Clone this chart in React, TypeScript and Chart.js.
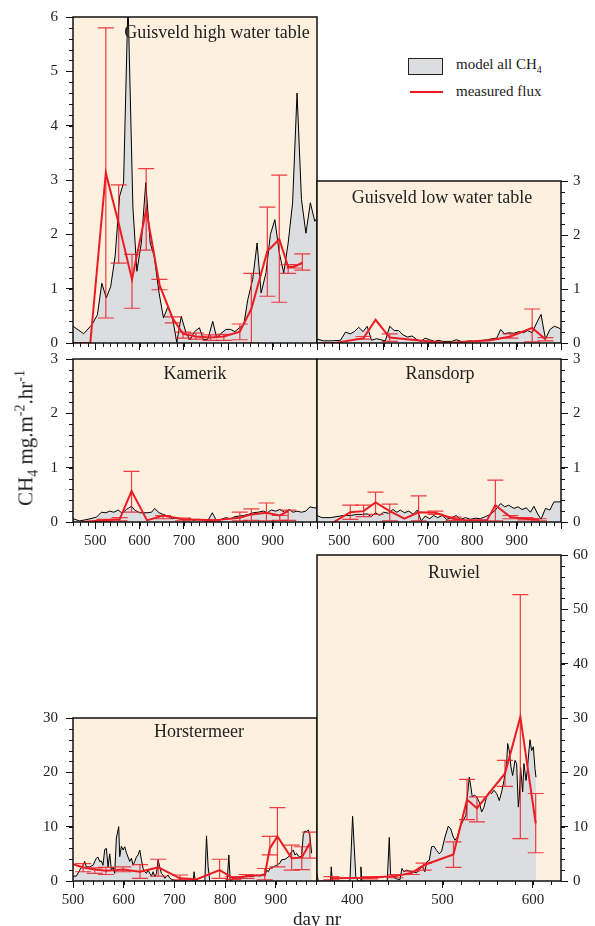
import React, { useEffect, useRef } from 'react';
import { Chart, registerables } from 'chart.js';
Chart.register(...registerables);

const FONT = "'Liberation Serif', 'DejaVu Serif', 'Times New Roman', serif";
const BG = 'rgb(253,240,222)';
const GRAY = 'rgb(220,221,223)';
const RED = 'rgb(236,28,36)';
const RED_BAR = 'rgba(236,28,36,0.85)';

// ---------- Guisveld high water table ----------
const ghModelDay = [450,474,493,505,515,525,535,545,555,564,574,585,594,604,614,624,633,644,654,664,675,684,694,705,714,724,735,744,754,765,774,784,795,805,815,825,835,844,855,865,874,885,895,905,915,925,935,945,955,965,975,985,995,1000];
const ghModel = [0.31,0.17,0.34,0.52,1.1,0.83,1.04,1.6,2.7,2.95,6.3,2.5,1.32,1.84,2.95,1.84,1.6,0.92,0.46,0.67,0.43,0.01,0.49,0.18,0.06,0.21,0.28,0.06,0.07,0.4,0.09,0.18,0.25,0.25,0.21,0.28,0.34,0.8,1.17,1.84,0.92,1.29,2.0,2.27,1.66,1.29,1.84,2.58,4.6,2.64,2.02,2.58,2.24,2.3];
const ghFluxDay = [450,489,524,553,583,615,645,675,698,727,760,790,826,852,888,915,935,948,967];
const ghFlux = [0,0,3.13,2.2,1.17,2.45,1.07,0.45,0.17,0.12,0.1,0.12,0.21,0.63,1.69,1.91,1.4,1.4,1.48];
const ghFluxLo = [null,null,0.46,1.47,0.64,1.71,0.98,0.37,0.09,0.07,0.05,0.05,0.06,0,0.86,0.75,1.28,1.38,1.34];
const ghFluxHi = [null,null,5.8,2.91,1.63,3.21,1.17,0.48,0.2,0.18,0.15,0.16,0.35,1.28,2.5,3.09,1.44,1.44,1.64];

// ---------- Guisveld low water table ----------
const glModelDay = [450,465,484,503,514,525,534,544,554,563,573,584,594,604,614,624,634,644,654,664,674,684,694,704,715,724,734,745,754,764,775,785,794,805,815,824,835,845,855,864,873,882,894,905,915,925,935,945,955,965,975,985,995,1000];
const glModel = [0.07,0.04,0.04,0.05,0.2,0.17,0.21,0.29,0.21,0.31,0.05,0.08,0.06,0.04,0.31,0.23,0.23,0.15,0.11,0.13,0.07,0.03,0.09,0.06,0.03,0.05,0.03,0.03,0.03,0.06,0.03,0.03,0.04,0.03,0.04,0.05,0.06,0.08,0.09,0.25,0.17,0.19,0.18,0.21,0.19,0.23,0.19,0.37,0.53,0.07,0.25,0.31,0.28,0.25];
const glFluxDay = [455,491,555,582,614,675,743,841,886,935,965];
const glFlux = [0,0,0.09,0.43,0.1,0.05,0.0,0.05,0.12,0.28,0.07];
const glFluxLo = [null,null,0.07,null,0.03,null,null,null,0.09,0.02,0.04];
const glFluxHi = [null,null,0.12,null,0.17,null,null,null,0.17,0.63,0.1];

// ---------- Kamerik ----------
const kaModelDay = [450,465,484,503,514,524,533,542,552,561,570,582,589,600,608,617,627,634,644,653,664,674,683,694,704,713,722,732,743,755,764,773,785,794,805,815,826,835,845,856,867,879,888,897,907,916,927,937,946,955,965,975,984,993,1000];
const kaModel = [0.06,0.02,0.05,0.09,0.18,0.17,0.2,0.18,0.22,0.16,0.23,0.29,0.22,0.17,0.17,0.17,0.18,0.25,0.17,0.14,0.11,0.06,0.08,0.05,0.04,0.06,0.03,0.05,0.04,0.04,0.17,0.03,0.05,0.08,0.06,0.1,0.11,0.12,0.14,0.17,0.18,0.2,0.17,0.22,0.2,0.23,0.18,0.23,0.18,0.2,0.18,0.2,0.28,0.26,0.26];
const kaFluxDay = [470,521,555,582,617,653,698,766,826,852,886,916,935];
const kaFlux = [0,0.03,0.05,0.57,0.03,0.12,0.05,0.03,0.08,0.14,0.17,0.12,0.2];
const kaFluxLo = [null,0.01,0.02,0.18,null,0.06,0.02,0.01,0.02,0.03,0.02,0.03,0.03];
const kaFluxHi = [null,0.05,0.08,0.93,null,0.12,0.07,0.04,0.18,0.24,0.35,0.12,0.22];

// ---------- Ransdorp ----------
const raModelDay = [450,461,480,495,510,525,540,552,563,572,582,591,600,612,621,630,638,647,657,667,676,685,694,704,713,722,732,742,751,764,773,785,796,807,818,830,841,852,864,873,882,894,903,912,922,931,939,948,955,965,975,984,995,1000];
const raModel = [0.12,0.08,0.08,0.1,0.12,0.12,0.14,0.14,0.15,0.1,0.17,0.12,0.18,0.16,0.23,0.18,0.22,0.17,0.2,0.14,0.22,0.02,0.11,0.06,0.12,0.08,0.12,0.05,0.07,0.12,0.05,0.08,0.05,0.07,0.06,0.1,0.14,0.22,0.34,0.28,0.31,0.25,0.28,0.23,0.26,0.18,0.29,0.14,0.05,0.25,0.22,0.37,0.37,0.37];
const raFluxDay = [488,525,555,582,614,647,679,717,758,788,833,852,886,920,950];
const raFlux = [0,0.18,0.2,0.36,0.2,0.06,0.18,0.17,0.06,0.03,0.03,0.31,0.09,0.06,0.04];
const raFluxLo = [null,0.05,0.1,0.14,0.02,null,0.02,0.14,0.03,null,null,0.02,0.06,0.04,0.02];
const raFluxHi = [null,0.31,0.31,0.55,0.33,null,0.48,0.2,0.09,null,null,0.77,0.12,0.08,0.06];

// ---------- Horstermeer ----------
const hoModelDay = [500,506.6,513.2,519.7,523,526.3,532.9,539.5,546,549.3,552.6,555.9,559.2,562.5,565.8,569.1,572.4,575.7,578.9,582.2,585.5,587.5,590.1,592.1,595.4,598.7,602,605.3,608.6,611.8,615.1,618.4,621.7,625,628.3,631.6,634.9,638.2,641.4,644.7,648,651.3,654.6,657.9,661.2,664.5,667.8,671,674.3,677.6,680.9,684.2,687.5,690.8,697.4,703.9,710.5,723.7,736.8,738.8,740.8,759.9,763.2,766.4,769.7,789.5,804,807.2,809.9,815.8,822.4,829,835.5,842.1,848.7,855.3,861.8,868.4,875,878.3,881.6,884.9,888.2,894.7,901.3,907.9,911.2,917.8,924.3,927.6,930.9,934.2,937.5,940.8,944.1,947.4,950.7,953.9,957.2,960.5,963.8,967.1,970.4];
const hoModel = [0.9,0.9,2.0,2.9,3.6,2.6,2.6,2.9,4.2,4.4,3.6,3.7,2.9,5.8,6.0,2.6,5.0,2.0,2.6,1.4,7.9,8.8,10.0,4.5,6.4,5.7,6.3,5.2,4.4,3.6,4.2,2.9,3.6,4.4,4.8,5.7,3.9,2.3,1.7,1.4,2.0,1.4,0.9,1.7,0.8,1.4,3.9,2.6,1.4,1.1,0.5,0.8,1.1,0.5,0.2,0.06,0.2,0,0,1.7,0,0,8.3,2.6,0,0,0,4.8,0,0.5,0.5,0.8,0.7,0.9,0.8,0.9,1.1,0.9,1.3,0.9,2.0,1.7,2.3,2.6,2.9,3.3,3.9,4.0,4.4,4.8,5.4,5.7,4.8,5.1,4.6,4.4,4.6,8.5,9.2,9.1,9.4,8.2,5.1];
const hoFluxDay = [500,520,543,565,599,632,668,711,743,789,816,842,878,888,903,931,951,967];
const hoFlux = [3.1,2.5,2.1,1.9,2.1,1.7,2.5,0.5,0.3,2.0,0.5,0.9,1.1,6.0,8.2,4.2,4.3,7.0];
const hoFluxLo = [null,1.7,1.4,1.2,1.7,0.5,0.9,0.2,null,0.5,0.3,0.5,0.2,4.8,2.6,2.0,2.1,4.2];
const hoFluxHi = [null,3.2,2.4,2.5,2.6,3.0,4.0,1.1,null,4.0,0.8,1.2,2.3,8.2,13.5,6.6,6.3,9.0];

// ---------- Ruwiel ----------
const ruModelDay = [360.5,362.4,376,376.8,377.9,397.4,400.4,402.2,404,406.6,408.9,409.6,410.7,438.7,441,442.4,445.4,449,452.8,455,457.2,460.1,463.8,467.5,471.2,474.9,477.9,480.4,482.3,485.2,487.8,490.4,493.4,496.3,498.9,502.6,506.3,508.9,511.8,513.7,516.2,519.2,522.9,525.8,527.3,529.5,531,532.8,535.1,537.6,540.6,543.2,545.8,548.7,551.7,554.2,556.8,559.8,562.7,565.3,567.9,570.8,572,573.8,575.6,577.5,580.1,581.9,583.8,584.9,586.3,588.6,590,592.3,593.7,595.2,596.7,598.5,600.4,602.2,603.3];
const ruModel = [1.7,0,0,2.6,0,0,11.9,6.3,0.7,0,0,2.6,0,0,8.0,1.3,0.7,0.4,0.25,2.3,1.7,2.0,1.8,1.7,1.5,2.3,2.6,1.7,3.5,3.8,6.3,6.4,5.6,5.0,5.5,8.1,10.1,9.6,8.1,7.5,8.1,9.9,11.2,12.1,15.5,19.1,17.6,15.5,15.8,15.5,14.5,12.7,13.6,15.6,16.4,16.1,16.7,16.1,14.8,16.4,18.5,21.6,25.3,24.0,21.0,19.4,22.2,21.6,13.6,15.5,20.9,16.4,21.6,18.5,20.4,23.4,26.0,24.0,24.7,20.7,19.1];
const ruFluxDay = [377,420,448,466,479,512,527,538,569,586,603];
const ruFlux = [0.5,0.6,0.9,1.5,2.9,4.9,15.0,13.4,19.8,30.2,10.6];
const ruFluxLo = [0.2,0.4,0.6,1.2,2.0,2.5,11.3,10.9,17.4,7.8,5.2];
const ruFluxHi = [0.8,0.8,1.2,1.8,3.3,7.2,18.7,15.5,22.2,52.7,16.1];

// ---------- tick labels ----------
const dayTicksTop = [500, 600, 700, 800, 900, 1000];
const dayLabelsMid = [500, 600, 700, 800, 900];
const dayTicksHo = [500, 600, 700, 800, 900];
const dayTicksRu = [400, 500, 600];
const yTicks6 = [0, 1, 2, 3, 4, 5, 6];
const yTicks3 = [0, 1, 2, 3];
const yTicks30 = [0, 10, 20, 30];
const yTicks60 = [0, 10, 20, 30, 40, 50, 60];

type Panel = {
  rect: number[]; xMin: number; xMax: number; xMajor: number[]; xLabels: number[];
  xMinorStart: number; xMinorStep: number; yMax: number; yMajor: number[]; yMinor: number;
  side: 'left' | 'right'; title: string; titleAt: number[];
  mDay: number[]; mVal: number[]; fDay: number[]; fVal: number[]; fLo: (number | null)[]; fHi: (number | null)[];
};

const PANELS: Panel[] = [
  { rect: [73, 17, 317, 343], xMin: 450, xMax: 1000, xMajor: dayTicksTop, xLabels: [], xMinorStart: 450, xMinorStep: 100 / 6,
    yMax: 6, yMajor: yTicks6, yMinor: 0.2, side: 'left', title: 'Guisveld high water table', titleAt: [217, 32],
    mDay: ghModelDay, mVal: ghModel, fDay: ghFluxDay, fVal: ghFlux, fLo: ghFluxLo, fHi: ghFluxHi },
  { rect: [317, 181, 561, 343], xMin: 450, xMax: 1000, xMajor: dayTicksTop, xLabels: [], xMinorStart: 450, xMinorStep: 100 / 6,
    yMax: 3, yMajor: yTicks3, yMinor: 0.2, side: 'right', title: 'Guisveld low water table', titleAt: [442, 197],
    mDay: glModelDay, mVal: glModel, fDay: glFluxDay, fVal: glFlux, fLo: glFluxLo, fHi: glFluxHi },
  { rect: [73, 359, 317, 522], xMin: 450, xMax: 1000, xMajor: dayTicksTop, xLabels: dayLabelsMid, xMinorStart: 450, xMinorStep: 100 / 6,
    yMax: 3, yMajor: yTicks3, yMinor: 0.2, side: 'left', title: 'Kamerik', titleAt: [195, 373],
    mDay: kaModelDay, mVal: kaModel, fDay: kaFluxDay, fVal: kaFlux, fLo: kaFluxLo, fHi: kaFluxHi },
  { rect: [317, 359, 561, 522], xMin: 450, xMax: 1000, xMajor: dayTicksTop, xLabels: dayLabelsMid, xMinorStart: 450, xMinorStep: 100 / 6,
    yMax: 3, yMajor: yTicks3, yMinor: 0.2, side: 'right', title: 'Ransdorp', titleAt: [440, 373],
    mDay: raModelDay, mVal: raModel, fDay: raFluxDay, fVal: raFlux, fLo: raFluxLo, fHi: raFluxHi },
  { rect: [73, 718, 317, 881], xMin: 500, xMax: 981, xMajor: dayTicksHo, xLabels: dayTicksHo, xMinorStart: 500, xMinorStep: 20,
    yMax: 30, yMajor: yTicks30, yMinor: 2, side: 'left', title: 'Horstermeer', titleAt: [199, 731],
    mDay: hoModelDay, mVal: hoModel, fDay: hoFluxDay, fVal: hoFlux, fLo: hoFluxLo, fHi: hoFluxHi },
  { rect: [317, 555, 561, 881], xMin: 361, xMax: 631, xMajor: dayTicksRu, xLabels: dayTicksRu, xMinorStart: 380, xMinorStep: 20,
    yMax: 60, yMajor: yTicks60, yMinor: 2, side: 'right', title: 'Ruwiel', titleAt: [454, 572],
    mDay: ruModelDay, mVal: ruModel, fDay: ruFluxDay, fVal: ruFlux, fLo: ruFluxLo, fHi: ruFluxHi },
];

const M = 50, TOP = 24, BOT = 35;

function PanelChart({ p }: { p: Panel }) {
  const ref = useRef<HTMLCanvasElement>(null);
  const [L, T, R, B] = p.rect;
  const w = R - L + 2 * M;
  const h = B - T + TOP + BOT;
  useEffect(() => {
    const canvas = ref.current;
    if (!canvas) return;
    const bgFrame = {
      id: 'bgFrame',
      beforeDatasetsDraw(chart: any) {
        const { ctx, chartArea: a } = chart;
        ctx.save();
        ctx.fillStyle = BG;
        ctx.fillRect(a.left, a.top, a.right - a.left, a.bottom - a.top);
        ctx.restore();
      },
      afterDraw(chart: any) {
        const { ctx, chartArea: a, scales } = chart;
        const xs = scales.x, ys = scales.y;
        ctx.save();
        ctx.strokeStyle = '#111';
        ctx.lineWidth = 1;
        for (let v = p.xMinorStart; v <= p.xMax + 1e-6; v += p.xMinorStep) {
          const px = Math.round(xs.getPixelForValue(v)) + 0.5;
          ctx.beginPath(); ctx.moveTo(px, a.bottom); ctx.lineTo(px, a.bottom + 4); ctx.stroke();
        }
        for (let v = 0; v <= p.yMax + 1e-6; v += p.yMinor) {
          const py = Math.round(ys.getPixelForValue(v)) + 0.5;
          ctx.beginPath();
          if (p.side === 'left') { ctx.moveTo(a.left, py); ctx.lineTo(a.left - 4, py); }
          else { ctx.moveTo(a.right, py); ctx.lineTo(a.right + 4, py); }
          ctx.stroke();
        }
        ctx.lineWidth = 1.5;
        ctx.strokeRect(a.left, a.top, a.right - a.left, a.bottom - a.top);
        ctx.restore();
      },
    };
    const errBars = {
      id: 'errBars',
      afterDatasetsDraw(chart: any) {
        const { ctx, chartArea: a, scales } = chart;
        const xs = scales.x, ys = scales.y;
        ctx.save();
        ctx.beginPath(); ctx.rect(a.left, a.top - 1, a.right - a.left, a.bottom - a.top + 1); ctx.clip();
        ctx.strokeStyle = RED_BAR;
        ctx.lineWidth = 1.2;
        p.fDay.forEach((d, i) => {
          const lo = p.fLo[i], hi = p.fHi[i];
          if (lo == null || hi == null) return;
          const px = xs.getPixelForValue(d);
          const pl = ys.getPixelForValue(lo);
          const ph = ys.getPixelForValue(hi);
          ctx.beginPath();
          ctx.moveTo(px, pl); ctx.lineTo(px, ph);
          ctx.moveTo(px - 8, pl); ctx.lineTo(px + 8, pl);
          ctx.moveTo(px - 8, ph); ctx.lineTo(px + 8, ph);
          ctx.stroke();
        });
        ctx.restore();
      },
    };
    const tickFont = { family: FONT, size: 15 };
    const chart = new Chart(canvas, {
      type: 'line',
      data: {
        datasets: [
          {
            data: p.fDay.map((d, i) => ({ x: d, y: p.fVal[i] })),
            borderColor: RED, borderWidth: 2, pointRadius: 0, fill: false, tension: 0, order: 1,
          },
          {
            data: p.mDay.map((d, i) => ({ x: d, y: p.mVal[i] })),
            borderColor: '#000', borderWidth: 1, backgroundColor: GRAY, pointRadius: 0,
            fill: 'origin', tension: 0, order: 2,
          },
        ],
      },
      options: {
        responsive: false,
        animation: false,
        events: [],
        layout: { padding: { left: p.side === 'left' ? 0 : M, right: p.side === 'right' ? 0 : M, top: TOP, bottom: 0 } },
        plugins: { legend: { display: false }, tooltip: { enabled: false }, title: { display: false } },
        scales: {
          x: {
            type: 'linear', position: 'bottom', min: p.xMin, max: p.xMax,
            border: { display: false },
            grid: { drawOnChartArea: false, drawTicks: true, tickLength: 7, color: '#111', lineWidth: 1 },
            ticks: {
              autoSkip: false, maxRotation: 0, padding: 3, color: '#222', font: tickFont,
              callback: (v: any) => (p.xLabels.includes(Number(v)) ? String(v) : ''),
            },
            afterBuildTicks: (s: any) => { s.ticks = p.xMajor.map((v) => ({ value: v })); },
            afterFit: (s: any) => { s.height = BOT; },
          },
          y: {
            type: 'linear', position: p.side, min: 0, max: p.yMax,
            border: { display: false },
            grid: { drawOnChartArea: false, drawTicks: true, tickLength: 7, color: '#111', lineWidth: 1 },
            ticks: {
              autoSkip: false, padding: p.side === 'left' ? 8 : 5, color: '#222', font: tickFont,
              callback: (v: any) => String(v),
            },
            afterBuildTicks: (s: any) => { s.ticks = p.yMajor.map((v) => ({ value: v })); },
            afterFit: (s: any) => { s.width = M; },
          },
        },
      } as any,
      plugins: [bgFrame, errBars],
    });
    return () => chart.destroy();
  }, []);
  return (
    <canvas
      ref={ref}
      width={w}
      height={h}
      style={{ position: 'absolute', left: L - M, top: T - TOP, width: w, height: h }}
    />
  );
}

const textStyle: React.CSSProperties = {
  position: 'absolute', transform: 'translate(-50%, -50%)', whiteSpace: 'nowrap',
  fontFamily: FONT, fontSize: 18, color: '#222', lineHeight: 1,
};

export default function App() {
  return (
    <div style={{ position: 'absolute', left: 0, top: 0, width: 595, height: 926, background: '#fff', overflow: 'hidden' }}>
      {PANELS.map((p, i) => <PanelChart key={i} p={p} />)}
      {PANELS.map((p, i) => (
        <div key={'t' + i} style={{ ...textStyle, left: p.titleAt[0], top: p.titleAt[1] }}>{p.title}</div>
      ))}
      <div style={{ ...textStyle, left: 27, top: 438, fontSize: 21, transform: 'translate(-50%, -50%) rotate(-90deg)' }}>
        CH<sub style={{ fontSize: 14 }}>4</sub> mg.m<sup style={{ fontSize: 14 }}>-2</sup>.hr<sup style={{ fontSize: 14 }}>-1</sup>
      </div>
      <div style={{ ...textStyle, left: 317, top: 918, fontSize: 19 }}>day nr</div>
      {/* legend */}
      <div style={{ position: 'absolute', left: 408, top: 58, width: 35, height: 17, background: GRAY, border: '1px solid #222', boxSizing: 'border-box' }} />
      <div style={{ ...textStyle, transform: 'translate(0, -50%)', left: 456, top: 66, fontSize: 15 }}>
        model all CH<sub style={{ fontSize: 10 }}>4</sub>
      </div>
      <div style={{ position: 'absolute', left: 410, top: 91, width: 33, height: 2, background: RED }} />
      <div style={{ ...textStyle, transform: 'translate(0, -50%)', left: 456, top: 91, fontSize: 15 }}>measured flux</div>
    </div>
  );
}
